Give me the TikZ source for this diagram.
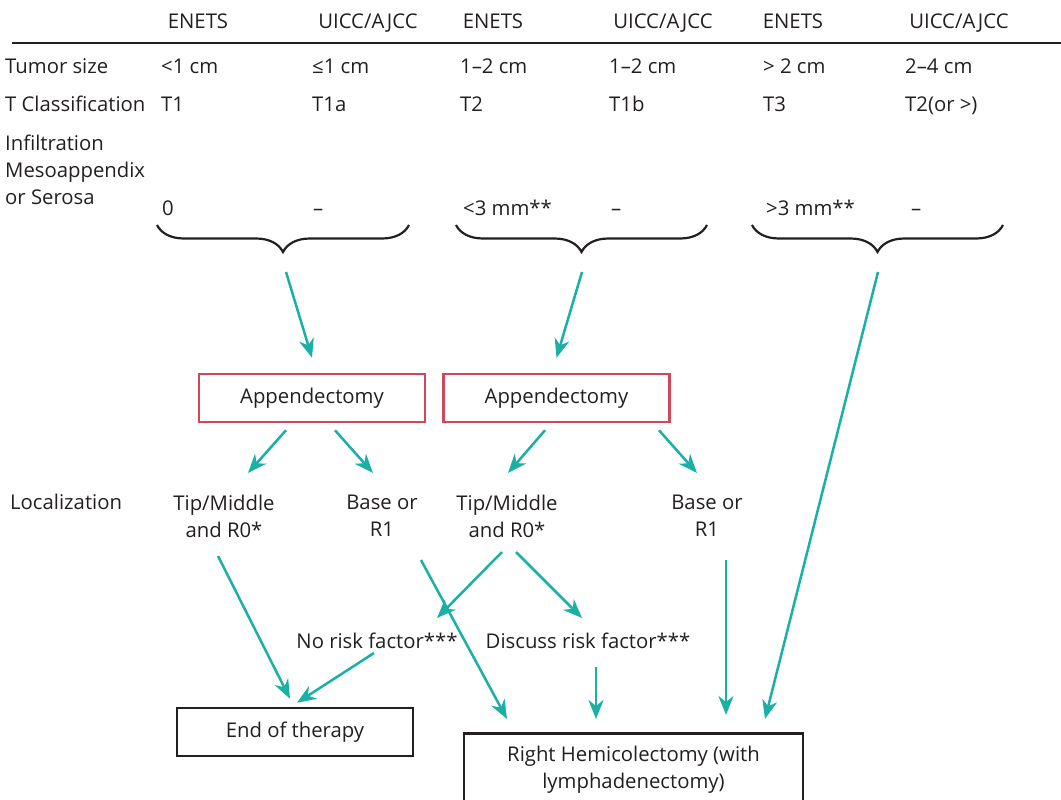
\documentclass[tikz,border=0pt]{standalone}
\usepackage{fontspec}
\setmainfont{Open Sans}
\usetikzlibrary{arrows.meta, decorations.pathreplacing}
\definecolor{arrteal}{HTML}{1AB0A5}
\definecolor{boxred}{HTML}{CF485C}
\definecolor{inkblack}{HTML}{231F20}

\begin{document}
\begin{tikzpicture}[
    x=1pt, y=-1pt,
    >={Stealth[length=19pt, width=15pt, inset=6pt]},
    font=\fontsize{20.3}{27}\selectfont,
    text=inkblack,
    lbl/.style={anchor=base west, inner sep=0pt},
    hdr/.style={anchor=base, inner sep=0pt},
    appbox/.style={
        draw=boxred, line width=2.5pt, inner sep=0pt,
        minimum width=226pt, minimum height=48pt, align=center,
    },
    endbox/.style={
        draw=inkblack, line width=2.5pt, inner sep=0pt,
        minimum width=236pt, minimum height=48pt, align=center,
    },
    stage/.style={align=center, inner sep=0pt},
    curly/.style={draw=inkblack, line width=2.2pt,
        decorate, decoration={brace, mirror, amplitude=27pt}},
    arr/.style={->, line width=2.5pt, color=arrteal},
]
\useasboundingbox (0,0) rectangle (1061,800);

% Column heads
\node[hdr] (h1) at (198,29) {ENETS};
\node[hdr] (h2) at (368,29) {UICC/AJCC};
\node[hdr] (h3) at (493,29) {ENETS};
\node[hdr] (h4) at (663,29) {UICC/AJCC};
\node[hdr] (h5) at (793,29) {ENETS};
\node[hdr] (h6) at (959,29) {UICC/AJCC};
\draw[inkblack, line width=2pt] (12,43) -- (1061,43);

% Tumor size
\node[lbl] (size) at (5,74) {Tumor size};
\node[lbl] (size1) at (161,74) {<1 cm};
\node[lbl] (size2) at (312,74) {≤1 cm};
\node[lbl] (size3) at (460,74) {1–2 cm};
\node[lbl] (size4) at (609,74) {1–2 cm};
\node[lbl] (size5) at (763,74) {> 2 cm};
\node[lbl] (size6) at (905,74) {2–4 cm};

% T classification
\node[lbl] (tcls) at (5,111) {T Classification};
\node[lbl] (tcls1) at (161,111) {T1};
\node[lbl] (tcls2) at (312,111) {T1a};
\node[lbl] (tcls3) at (460,111) {T2};
\node[lbl] (tcls4) at (609,111) {T1b};
\node[lbl] (tcls5) at (763,111) {T3};
\node[lbl] (tcls6) at (905,111) {T2(or >)};

% Infiltration
\node[stage, align=left, anchor=west] (infil) at (5,170)
    {Infiltration\\Mesoappendix\\or Serosa};
\node[lbl] (inf1) at (162,215) {0};
\node[lbl] (inf2) at (313,215) {–};
\node[lbl] (inf3) at (463,215) {<3 mm**};
\node[lbl] (inf4) at (611,215) {–};
\node[lbl] (inf5) at (766,215) {>3 mm**};
\node[lbl] (inf6) at (911,215) {–};

% Braces
\draw[curly] (157,225) -- (409,225);
\draw[curly] (456,225) -- (707,225);
\draw[curly] (752,225) -- (1003,225);
\coordinate (br1) at (284,252);
\coordinate (br2) at (582,252);
\coordinate (br3) at (878,252);

% Surgery
\node[appbox] (app1) at (312,398) {Appendectomy};
\node[appbox] (app2) at (556.5,398) {Appendectomy};

% Localization
\node[lbl] (loc) at (10,509) {Localization};
\node[stage] (tip1) at (224,516) {Tip/Middle\\and R0*};
\node[stage] (base1) at (382,516) {Base or\\R1};
\node[stage] (tip2) at (507,516) {Tip/Middle\\and R0*};
\node[stage] (base2) at (707,516) {Base or\\R1};

% Risk factors
\node[stage] (norisk) at (377,641) {No risk factor***};
\node[stage] (discuss) at (588,641) {Discuss risk factor***};

% Outcomes
\node[endbox] (endth) at (295,732) {End of therapy};
\node[draw=inkblack, line width=2.5pt, align=center, inner xsep=0pt, inner ysep=13pt,
    minimum width=339pt, anchor=north] (hemi) at (633.5,732)
    {Right Hemicolectomy (with\\lymphadenectomy)};

% Arrows
\draw[arr] ([xshift=2pt,yshift=-20pt]br1) -- ([yshift=15pt]app1.north);
\draw[arr] ([yshift=-20pt]br2) -- ([yshift=15pt]app2.north);
\draw[arr] ([yshift=-20pt]br3) -- ([xshift=131.5pt,yshift=13pt]hemi.north);

\draw[arr] ([xshift=-26pt,yshift=-7pt]app1.south) -- ([xshift=24pt,yshift=43pt]tip1.center);
\draw[arr] ([xshift=23pt,yshift=-7pt]app1.south) -- ([xshift=-9pt,yshift=43pt]base1.center);
\draw[arr] ([xshift=-11.5pt,yshift=-7pt]app2.south) -- ([xshift=1pt,yshift=43pt]tip2.center);
\draw[arr] ([xshift=102.5pt,yshift=-7pt]app2.south) -- ([xshift=-10pt,yshift=43pt]base2.center);

\draw[arr] ([xshift=-6pt,yshift=-40pt]tip1.center) -- ([xshift=-5pt,yshift=8pt]endth.north);
\draw[arr] ([xshift=39pt,yshift=-44pt]base1.center) -- ([xshift=-126.5pt,yshift=13pt]hemi.north);
\draw[arr] ([xshift=-5pt,yshift=-36pt]tip2.center) -- ([xshift=60pt,yshift=23pt]norisk.center);
\draw[arr] ([xshift=9pt,yshift=-36pt]tip2.center) -- ([xshift=-6pt,yshift=23pt]discuss.center);
\draw[arr] ([xshift=-3pt,yshift=-12pt]norisk.center) -- ([xshift=2pt,yshift=4pt]endth.north);
\draw[arr] ([xshift=8pt,yshift=-26pt]discuss.center) -- ([xshift=-37.5pt,yshift=13pt]hemi.north);
\draw[arr] ([xshift=19pt,yshift=-44pt]base2.center) -- ([xshift=92.5pt,yshift=17pt]hemi.north);

\end{tikzpicture}
\end{document}
